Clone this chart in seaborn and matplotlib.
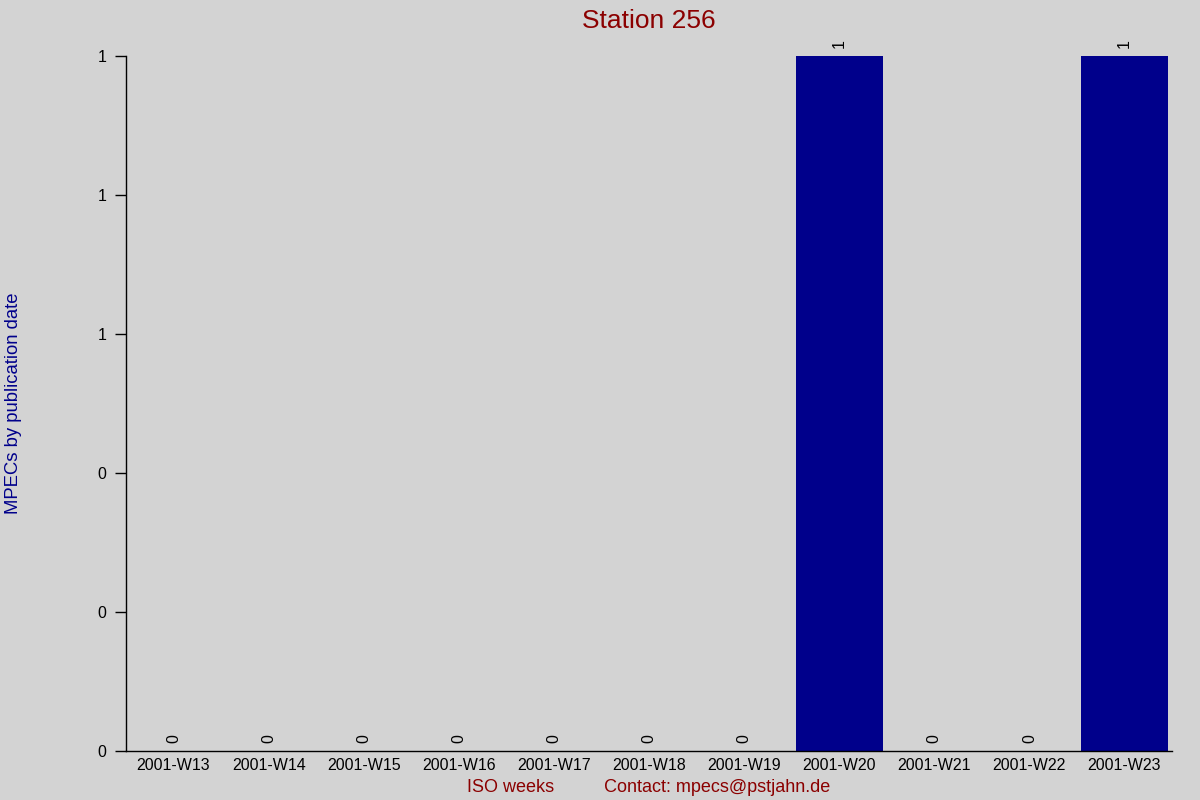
import matplotlib
matplotlib.use("Agg")
import matplotlib.pyplot as plt
import seaborn as sns
import pandas as pd
from matplotlib.ticker import FuncFormatter, FixedLocator

weeks = ["2001-W13", "2001-W14", "2001-W15", "2001-W16", "2001-W17", "2001-W18",
         "2001-W19", "2001-W20", "2001-W21", "2001-W22", "2001-W23"]
counts = [0, 0, 0, 0, 0, 0, 0, 1, 0, 0, 1]
yticks = [0, 0.2, 0.4, 0.6, 0.8, 1.0]

sns.set_theme(style="white")
plt.rcParams["font.family"] = ["Liberation Sans", "DejaVu Sans"]

bg = "#d3d3d3"
fig = plt.figure(figsize=(12, 8), dpi=100, facecolor=bg)
ax = fig.add_axes([0.105, 0.06125, 0.8717, 0.86875])
ax.set_facecolor(bg)

df = pd.DataFrame({"week": weeks, "count": counts})
sns.barplot(data=df, x="week", y="count", color="#00008B", saturation=1,
            width=0.915, ax=ax, edgecolor="none")

ax.set_xlim(-0.5, len(weeks) - 0.5)
ax.set_ylim(0, 1)
ax.yaxis.set_major_locator(FixedLocator(yticks))
ax.yaxis.set_major_formatter(FuncFormatter(lambda v, p: f"{v:.0f}"))

for c in ax.containers:
    ax.bar_label(c, labels=[str(v) for v in counts], rotation=90, padding=6,
                 fontsize=11.5, color="black")

for s in ["top", "right"]:
    ax.spines[s].set_visible(False)
for s in ["left", "bottom"]:
    ax.spines[s].set_color("black")
    ax.spines[s].set_linewidth(1)

ax.tick_params(axis="y", length=8, width=1, color="black", labelsize=11.5,
               labelcolor="black", pad=6, left=True)
ax.tick_params(axis="x", length=0, labelsize=11.5, labelcolor="black", pad=5)

ax.set_title("Station 256", color="#8B0000", fontsize=19, pad=20)
ax.set_ylabel("MPECs by publication date", color="#00008B", fontsize=13.3)
ax.yaxis.set_label_coords(-0.0995, 0.5)
ax.set_xlabel("ISO weeks" + " " * 10 + "Contact: mpecs@pstjahn.de",
              color="#8B0000", fontsize=13, labelpad=4)

fig.savefig("out.png", dpi=100, facecolor=bg)
